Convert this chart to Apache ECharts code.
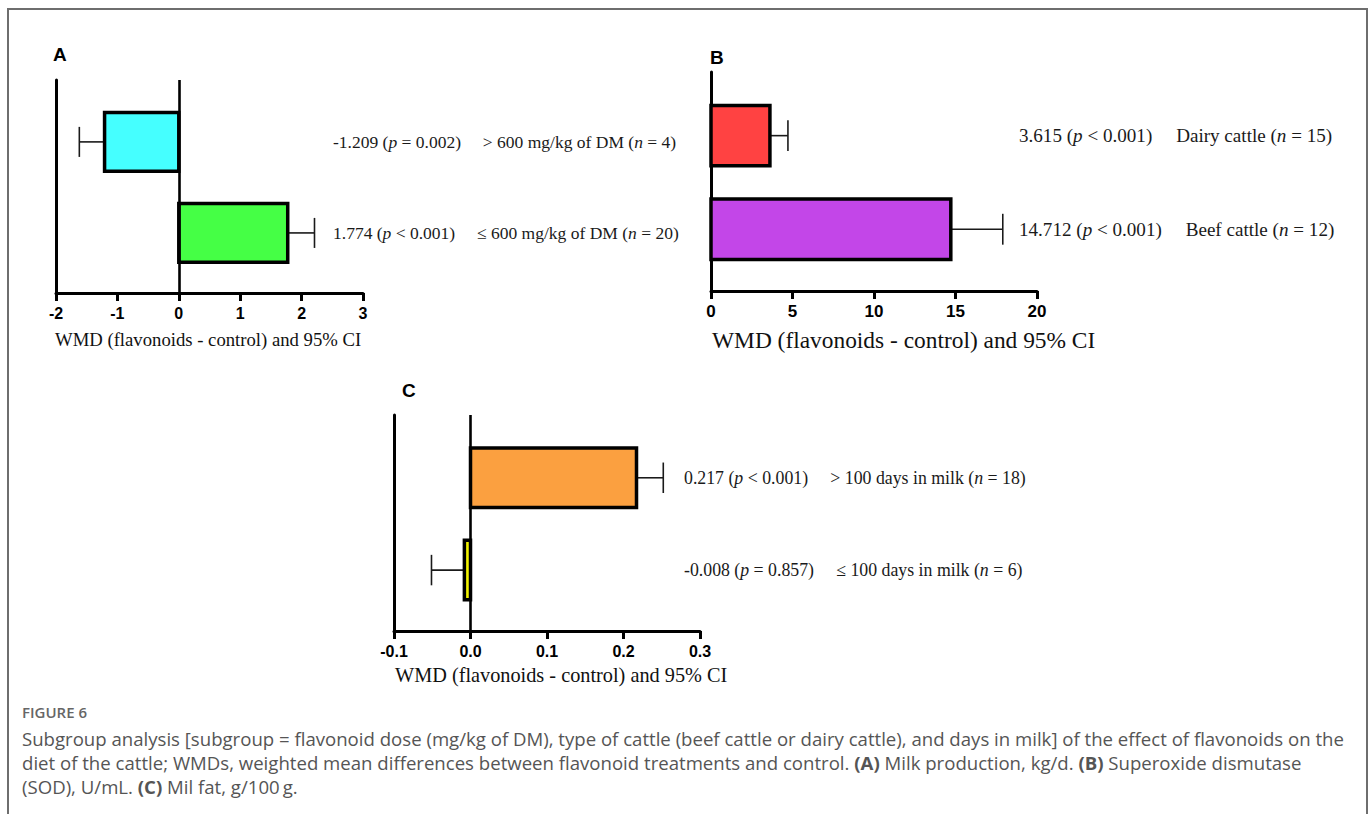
<!DOCTYPE html>
<html>
<head>
<meta charset="utf-8">
<script src="https://cdn.jsdelivr.net/npm/echarts@6/dist/echarts.min.js"></script>
<style>
  html, body { margin: 0; padding: 0; background: #fff; }
  #chart { width: 1372px; height: 814px; }
</style>
</head>
<body>
<div id="chart"></div>
<script>
// (A) Milk production, kg/d — subgroups by flavonoid dose
const doseGroups = ['> 600 mg/kg of DM', '\u2264 600 mg/kg of DM'];
const doseN = [4, 20];
const doseWMD = [-1.209, 1.774];
const doseCI = [-1.62, 2.21];          // outer 95% CI bound shown by the whisker
const doseP = ['= 0.002', '< 0.001'];
const doseTicks = [-2, -1, 0, 1, 2, 3];

// (B) Superoxide dismutase, U/mL — subgroups by type of cattle
const cattleGroups = ['Dairy cattle', 'Beef cattle'];
const cattleN = [15, 12];
const cattleWMD = [3.615, 14.712];
const cattleCI = [4.72, 17.9];
const cattleP = ['< 0.001', '< 0.001'];
const cattleTicks = [0, 5, 10, 15, 20];

// (C) Milk fat, g/100 g — subgroups by days in milk
const dimGroups = ['> 100 days in milk', '\u2264 100 days in milk'];
const dimN = [18, 6];
const dimWMD = [0.217, -0.008];
const dimCI = [0.252, -0.051];
const dimP = ['< 0.001', '= 0.857'];
const dimTicks = [-0.1, 0.0, 0.1, 0.2, 0.3];

const doseColors = ['#45FFFF', '#45FF45'];
const cattleColors = ['#FF4242', '#C346E8'];
const dimColors = ['#FBA040', '#F2F200'];

// row layout on the hidden (value) y axis: row 0 on top, row 1 below
const ROW_MIN = -0.68, ROW_MAX = 1.66;
const BAR_H = 0.645, CAP_H = 0.33;

const SERIF = '"Liberation Serif", "Times New Roman", serif';
const SANS = '"Liberation Sans", Arial, sans-serif';
const CAPTION = '"Open Sans", sans-serif';

function rowLabel(wmd, p, group, n) {
  return '{t|' + wmd.toFixed(3) + ' (}{i|p}{t| ' + p + ')     ' + group + ' (}{i|n}{t| = ' + n + ')}';
}

function panelRenderer(colors, labelX, fontSize, wmd, pvals, groups, ns) {
  return function (params, api) {
    const i = api.value(0);
    const v = api.value(1);
    const c = api.value(2);
    const a = api.coord([0, i - BAR_H / 2]);
    const b = api.coord([v, i + BAR_H / 2]);
    const mid = api.coord([v, i]);
    const end = api.coord([c, i]);
    const capTop = api.coord([c, i - CAP_H / 2]);
    const capBot = api.coord([c, i + CAP_H / 2]);
    const idx = params.dataIndex;
    return {
      type: 'group',
      children: [
        {
          type: 'line',
          shape: { x1: mid[0], y1: mid[1], x2: end[0], y2: end[1] },
          style: { stroke: '#1a1a1a', lineWidth: 1.6 }
        },
        {
          type: 'line',
          shape: { x1: capTop[0], y1: capTop[1], x2: capBot[0], y2: capBot[1] },
          style: { stroke: '#1a1a1a', lineWidth: 1.6 }
        },
        {
          type: 'rect',
          shape: {
            x: Math.min(a[0], b[0]), y: Math.min(a[1], b[1]),
            width: Math.abs(b[0] - a[0]), height: Math.abs(b[1] - a[1])
          },
          style: { fill: colors[idx], stroke: '#000', lineWidth: 3.5, lineJoin: 'miter' }
        },
        {
          type: 'text',
          x: labelX,
          y: mid[1],
          style: {
            text: rowLabel(wmd[idx], pvals[idx], groups[idx], ns[idx]),
            verticalAlign: 'middle',
            align: 'left',
            rich: {
              t: { fontFamily: SERIF, fontSize: fontSize, fill: '#1a1a1a' },
              i: { fontFamily: SERIF, fontSize: fontSize, fontStyle: 'italic', fill: '#1a1a1a' }
            }
          }
        }
      ]
    };
  };
}

function rows(wmd, ci) {
  return wmd.map(function (v, k) { return [k, v, ci[k]]; });
}

function xAxisFor(gridIndex, ticks, fmt, fontSize) {
  return {
    type: 'value', gridIndex: gridIndex,
    min: ticks[0], max: ticks[ticks.length - 1], interval: +(ticks[1] - ticks[0]).toFixed(6),
    axisLine: { show: true, onZero: false, lineStyle: { color: '#000', width: 3 } },
    axisTick: { show: true, length: 8, lineStyle: { color: '#000', width: 3 } },
    axisLabel: { color: '#000', fontFamily: SANS, fontWeight: 'bold', fontSize: fontSize, margin: 12, formatter: fmt },
    splitLine: { show: false }
  };
}

function yAxisFor(gridIndex) {
  return {
    type: 'value', gridIndex: gridIndex, inverse: true, min: ROW_MIN, max: ROW_MAX,
    axisLine: { show: true, onZero: false, lineStyle: { color: '#000', width: 3 } },
    axisTick: { show: false }, axisLabel: { show: false }, splitLine: { show: false }
  };
}

const zeroLine = {
  silent: true, symbol: ['none', 'none'], label: { show: false },
  lineStyle: { color: '#000', width: 2.6, type: 'solid' },
  emphasis: { disabled: true },
  data: [{ xAxis: 0 }]
};

const axisTitle = 'WMD (flavonoids - control) and 95% CI';

const chart = echarts.init(document.getElementById('chart'), null, { renderer: 'svg' });

chart.setOption({
  animation: false,
  backgroundColor: '#fff',
  grid: [
    { left: 56, top: 80, width: 307, height: 213 },
    { left: 711, top: 72, width: 326, height: 219 },
    { left: 394, top: 415, width: 306, height: 216 }
  ],
  xAxis: [
    xAxisFor(0, doseTicks, function (v) { return String(v); }, 16),
    xAxisFor(1, cattleTicks, function (v) { return String(v); }, 17),
    xAxisFor(2, dimTicks, function (v) { return v.toFixed(1); }, 16)
  ],
  yAxis: [yAxisFor(0), yAxisFor(1), yAxisFor(2)],
  series: [
    {
      type: 'custom', xAxisIndex: 0, yAxisIndex: 0,
      renderItem: panelRenderer(doseColors, 333, 17.5, doseWMD, doseP, doseGroups, doseN),
      data: rows(doseWMD, doseCI),
      markLine: zeroLine
    },
    {
      type: 'custom', xAxisIndex: 1, yAxisIndex: 1,
      renderItem: panelRenderer(cattleColors, 1019, 19.1, cattleWMD, cattleP, cattleGroups, cattleN),
      data: rows(cattleWMD, cattleCI)
    },
    {
      type: 'custom', xAxisIndex: 2, yAxisIndex: 2,
      renderItem: panelRenderer(dimColors, 684, 17.8, dimWMD, dimP, dimGroups, dimN),
      data: rows(dimWMD, dimCI),
      markLine: zeroLine
    }
  ],
  graphic: [
    {
      type: 'rect', silent: true, z: -1,
      shape: { x: 8, y: 9, width: 1359, height: 900 },
      style: { fill: 'none', stroke: '#6e6e6e', lineWidth: 2 }
    },
    { type: 'text', x: 53, y: 54, style: { text: 'A', font: 'bold 19px ' + SANS, fill: '#000', verticalAlign: 'middle' } },
    { type: 'text', x: 710, y: 57, style: { text: 'B', font: 'bold 19px ' + SANS, fill: '#000', verticalAlign: 'middle' } },
    { type: 'text', x: 402, y: 390, style: { text: 'C', font: 'bold 19px ' + SANS, fill: '#000', verticalAlign: 'middle' } },
    { type: 'text', x: 55, y: 339, style: { text: axisTitle, font: '18.7px ' + SERIF, fill: '#111', verticalAlign: 'middle' } },
    { type: 'text', x: 712, y: 340, style: { text: axisTitle, font: '23.4px ' + SERIF, fill: '#111', verticalAlign: 'middle' } },
    { type: 'text', x: 395, y: 675, style: { text: axisTitle, font: '20.3px ' + SERIF, fill: '#111', verticalAlign: 'middle' } },
    {
      type: 'text', x: 22, y: 712,
      style: { text: 'FIGURE 6', font: '600 15px ' + CAPTION, fill: '#666', verticalAlign: 'middle' }
    },
    {
      type: 'text', x: 22, y: 738,
      style: {
        text: 'Subgroup analysis [subgroup = flavonoid dose (mg/kg of DM), type of cattle (beef cattle or dairy cattle), and days in milk] of the effect of flavonoids on the',
        font: '18.6px ' + CAPTION, fill: '#555', verticalAlign: 'middle'
      }
    },
    {
      type: 'text', x: 22, y: 762,
      style: {
        text: '{r|diet of the cattle; WMDs, weighted mean differences between flavonoid treatments and control. }{b|(A)}{r| Milk production, kg/d. }{b|(B)}{r| Superoxide dismutase}',
        verticalAlign: 'middle',
        rich: {
          r: { fontFamily: CAPTION, fontSize: 18.6, fill: '#555' },
          b: { fontFamily: CAPTION, fontSize: 18.6, fontWeight: 'bold', fill: '#555' }
        }
      }
    },
    {
      type: 'text', x: 22, y: 786,
      style: {
        text: '{r|(SOD), U/mL. }{b|(C)}{r| Mil fat, g/100\u2009g.}',
        verticalAlign: 'middle',
        rich: {
          r: { fontFamily: CAPTION, fontSize: 18.6, fill: '#555' },
          b: { fontFamily: CAPTION, fontSize: 18.6, fontWeight: 'bold', fill: '#555' }
        }
      }
    }
  ]
});
</script>
</body>
</html>
